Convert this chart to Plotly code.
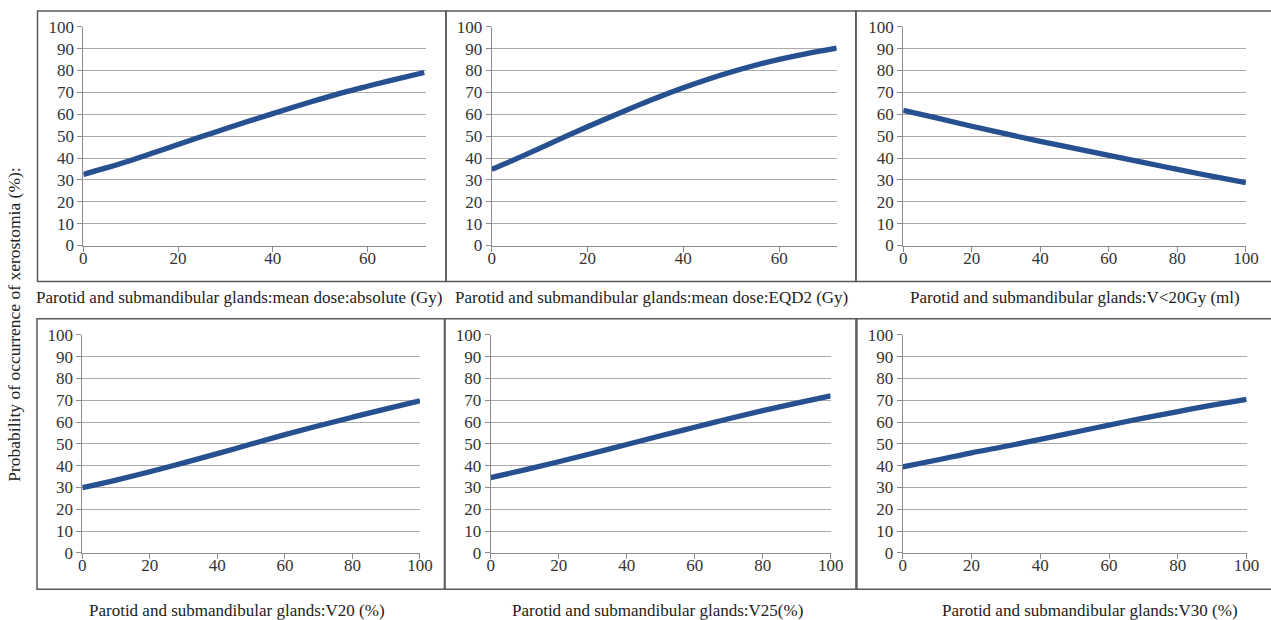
import plotly.graph_objects as go

# ---- data ----
x_abs = [0, 5, 10, 15, 20, 25, 30, 35, 40, 45, 50, 55, 60, 65, 72]
y_abs = [32.5, 35.6, 38.9, 42.5, 46.2, 49.8, 53.4, 56.9, 60.3, 63.7, 66.9, 70.0, 72.8, 75.5, 79.1]

x_eqd2 = [0, 5, 10, 15, 20, 25, 30, 35, 40, 45, 50, 55, 60, 65, 72]
y_eqd2 = [34.8, 39.5, 44.4, 49.4, 54.3, 59.0, 63.6, 68.0, 72.1, 75.9, 79.3, 82.4, 85.1, 87.4, 90.2]

x_v20gy = [0, 10, 20, 30, 40, 50, 60, 70, 80, 90, 100]
y_v20gy = [61.8, 58.2, 54.5, 51.0, 47.6, 44.4, 41.2, 38.0, 34.8, 31.7, 28.7]

x_v20 = [0, 10, 20, 30, 40, 50, 60, 70, 80, 90, 100]
y_v20 = [29.9, 33.4, 37.2, 41.3, 45.5, 49.9, 54.2, 58.3, 62.2, 66.0, 69.7]

x_v25 = [0, 10, 20, 30, 40, 50, 60, 70, 80, 90, 100]
y_v25 = [34.5, 38.1, 41.8, 45.7, 49.7, 53.7, 57.6, 61.5, 65.2, 68.7, 72.0]

x_v30 = [0, 10, 20, 30, 40, 50, 60, 70, 80, 90, 100]
y_v30 = [39.4, 42.6, 45.9, 48.9, 52.0, 55.3, 58.6, 61.8, 64.8, 67.7, 70.4]

x_titles = [
    "Parotid and submandibular glands:mean dose:absolute (Gy)",
    "Parotid and submandibular glands:mean dose:EQD2 (Gy)",
    "Parotid and submandibular glands:V<20Gy (ml)",
    "Parotid and submandibular glands:V20 (%)",
    "Parotid and submandibular glands:V25(%)",
    "Parotid and submandibular glands:V30 (%)",
]
y_title = "Probability of occurrence of xerostomia (%):"

series = [(x_abs, y_abs), (x_eqd2, y_eqd2), (x_v20gy, y_v20gy),
          (x_v20, y_v20), (x_v25, y_v25), (x_v30, y_v30)]
x_max = [72.3, 72, 100, 100, 100, 100]

# ---- layout geometry ----
# Target positions are given in photo pixels; the photo shows the page
# slightly scaled and offset, so convert to page pixels.
SX, OX, SY, OY = 0.987, 4.0, 0.969, 9.0
W, H = 1300, 660


def px(r):
    return (r - OX) / SX


def py(r):
    return (r - OY) / SY


areas = [  # x0, x1, ytop, ybottom (photo px)
    (83.3, 425.7, 26.7, 245.0),
    (491.7, 836.7, 26.7, 245.0),
    (903.3, 1246.0, 26.7, 245.0),
    (82.3, 420.0, 334.0, 551.7),
    (490.7, 830.7, 334.0, 551.7),
    (902.7, 1246.7, 334.0, 551.7),
]
boxes = [
    (37.5, 11, 446, 281), (446, 11, 856, 281), (856, 11, 1285, 281),
    (37, 318, 444.5, 588), (445, 318, 857, 588), (856, 318, 1285, 588),
]
label_pos = [(240, 297), (652, 297), (1075, 297), (237, 609), (658, 609), (1090, 609)]

FONT = "Liberation Serif"
LINE = "#26508F"
GRID = "#ABABAB"
TICK_SIZE = 17
LABEL_SIZE = 17

fig = go.Figure()
layout = dict(
    width=W, height=H, margin=dict(l=0, r=0, t=0, b=0),
    paper_bgcolor="white", plot_bgcolor="white", showlegend=False,
    font=dict(family=FONT, size=TICK_SIZE, color="#222"),
)

shapes, annotations = [], []
for i, ((xs, ys), (x0, x1, yt, yb)) in enumerate(zip(series, areas)):
    n = "" if i == 0 else str(i + 1)
    fig.add_trace(go.Scatter(x=xs, y=ys, mode="lines",
                             line=dict(color=LINE, width=5.3, shape="spline"),
                             xaxis="x" + n, yaxis="y" + n, hoverinfo="skip"))
    layout["xaxis" + n] = dict(
        domain=[px(x0) / W, px(x1) / W], anchor="y" + n, range=[0, x_max[i]],
        tickmode="linear", tick0=0, dtick=20,
        showgrid=False, zeroline=False, showline=True, linecolor="#8C8C8C", linewidth=1,
        ticks="outside", ticklen=5, tickcolor="#8C8C8C", ticklabelstandoff=-8,
        tickfont=dict(family=FONT, size=TICK_SIZE, color="#333"), fixedrange=True,
    )
    layout["yaxis" + n] = dict(
        domain=[1 - py(yb) / H, 1 - py(yt) / H], anchor="x" + n, range=[0, 100],
        tickmode="linear", tick0=0, dtick=10,
        showgrid=True, gridcolor=GRID, gridwidth=1, zeroline=False,
        showline=True, linecolor="#8C8C8C", linewidth=1,
        ticks="outside", ticklen=5, tickcolor="#8C8C8C",
        tickfont=dict(family=FONT, size=TICK_SIZE, color="#333"), fixedrange=True,
    )
    bx0, by0, bx1, by1 = boxes[i]
    shapes.append(dict(type="rect", xref="paper", yref="paper",
                       x0=px(bx0) / W, x1=px(bx1) / W,
                       y0=1 - py(by1) / H, y1=1 - py(by0) / H,
                       line=dict(color="#5A5A5A", width=1.5), layer="above"))
    lx, ly = label_pos[i]
    annotations.append(dict(text=x_titles[i], xref="paper", yref="paper",
                            x=px(lx) / W, y=1 - py(ly) / H, showarrow=False,
                            xanchor="center", yanchor="middle",
                            font=dict(family=FONT, size=LABEL_SIZE, color="#222")))

annotations.append(dict(text=y_title, xref="paper", yref="paper",
                        x=px(14) / W, y=1 - py(324) / H, showarrow=False, textangle=-90,
                        xanchor="center", yanchor="middle",
                        font=dict(family=FONT, size=17.5, color="#222")))

layout["shapes"] = shapes
layout["annotations"] = annotations
fig.update_layout(**layout)

post = (
    "document.documentElement.style.margin='0';"
    "document.documentElement.style.overflow='hidden';"
    "document.body.style.margin='0';"
    "document.body.style.overflow='hidden';"
    "var d=document.getElementById('{plot_id}');"
    "d.style.position='fixed';d.style.left='0px';d.style.top='0px';"
)
fig.write_html("out.html", config={"displayModeBar": False, "staticPlot": True},
               post_script=post)
